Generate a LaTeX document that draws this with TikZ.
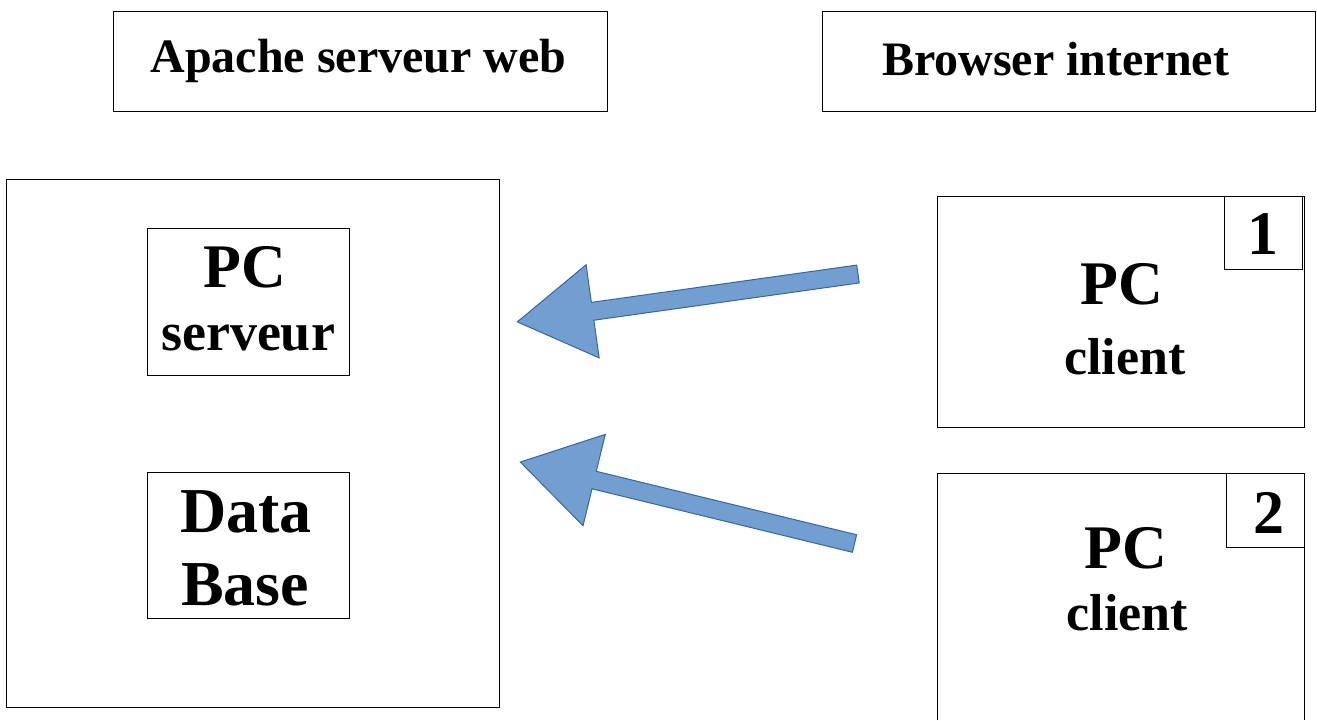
\documentclass[tikz,border=0pt]{standalone}
\usepackage{fontspec}
\setmainfont{Liberation Serif}
\usepackage{tikz}

\definecolor{arrowfill}{HTML}{729FCF}
\definecolor{arrowline}{HTML}{3465A4}

\tikzset{
  box/.style={draw=black, line width=0.5pt},
  titletext/.style={font=\fontsize{24}{28}\selectfont\bfseries, inner sep=0pt, anchor=base},
  bigtext/.style={font=\fontsize{31}{37}\selectfont\bfseries, inner sep=0pt, anchor=base},
  dbtext/.style={font=\fontsize{32}{38}\selectfont\bfseries, inner sep=0pt, anchor=base},
  smalltext/.style={font=\fontsize{26}{31}\selectfont\bfseries, inner sep=0pt, anchor=base},
  blockarrow/.style={fill=arrowfill, draw=arrowline, line width=0.5pt, line join=miter}
}

\begin{document}
\begin{tikzpicture}[x=0.5pt, y=-0.5pt]
\useasboundingbox (0,0) rectangle (1317,720);

% titles
\draw[box] (113,11) rectangle (607,111);
\draw[box] (822,11) rectangle (1315,111);
\node[titletext] (apache) at (358.5,72) {Apache serveur web};
\node[titletext] (browser) at (1055.5,75) {Browser internet};

% server side
\draw[box] (6,179) rectangle (499,707);
\draw[box] (147,228) rectangle (349,375);
\draw[box] (147,472) rectangle (349,618);
\node[bigtext] (srvpc) at (245,287) {PC};
\node[smalltext, font=\fontsize{27}{32}\selectfont\bfseries] (srvname) at (248,350) {serveur};
\node[dbtext] (dbdata) at (246,532) {Data};
\node[dbtext] (dbbase) at (245,605) {Base};

% clients
\draw[box] (937,196) rectangle (1304,427);
\draw[box] (1224,196) rectangle (1302,269);
\draw[box] (937,720) -- (937,473) -- (1304,473) -- (1304,720);
\draw[box] (1226,473) rectangle (1304,547);
\node[bigtext] (num1) at (1263,254) {1};
\node[bigtext] (clipc1) at (1122,304) {PC};
\node[smalltext] (cliname1) at (1125,374) {client};
\node[bigtext] (num2) at (1268.5,533) {2};
\node[bigtext] (clipc2) at (1126,568) {PC};
\node[smalltext] (cliname2) at (1127.5,630) {client};

% arrows client -> server
\foreach \tx/\ty/\ang in {858/274/188.0, 854.5/543.5/166.3}
{
\begin{scope}[shift={(\tx,\ty)}, rotate=\ang]
\draw[blockarrow] (0,-9) -- (268,-9) -- (268,-47) -- (344,0)
  -- (268,47) -- (268,9) -- (0,9) -- cycle;
\end{scope}
}

\end{tikzpicture}
\end{document}
